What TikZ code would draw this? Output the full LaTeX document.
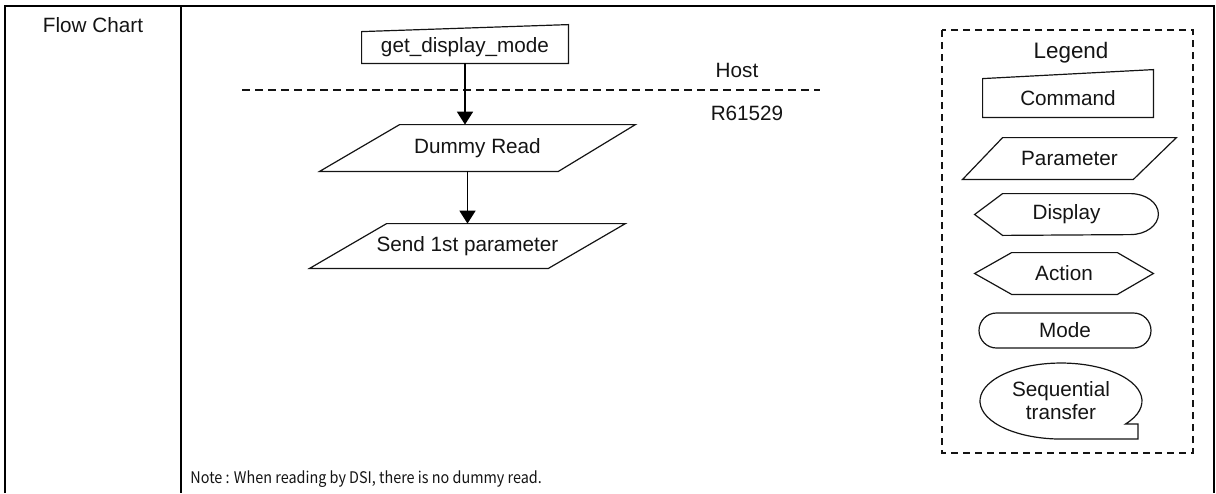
\documentclass[tikz,border=0pt]{standalone}
\usepackage{fontspec}
\setmainfont{Liberation Sans}
\newfontfamily\notefont[FakeStretch=0.9]{Noto Sans CJK JP}
\usepackage{tikz}
\usetikzlibrary{arrows.meta,positioning,calc}
\usepackage{xcolor}
\definecolor{inkblack}{RGB}{20,20,20}
\tikzset{
  frameline/.style={line width=1.1pt,draw=black},
  shapetext/.style={inner sep=0pt,align=center,font=\fontsize{10.35}{11.5}\selectfont,text=inkblack},
  outline/.style={line width=0.6pt,draw=inkblack},
  flowarrow/.style={-{Triangle[length=6.5pt,width=8pt]},line width=0.9pt,draw=black},
  splitline/.style={line width=0.65pt,draw=inkblack,dash pattern=on 4pt off 2.5pt},
  legendbox/.style={line width=0.6pt,draw=inkblack,dash pattern=on 3.5pt off 2.5pt},
  modebox/.style={shapetext,draw=inkblack,line width=0.6pt,rounded corners=8.75pt}
}
\begin{document}
\begin{tikzpicture}[x=0.5pt,y=-0.5pt]
  \useasboundingbox (0,0) rectangle (1216,493);
  % table frame
  \coordinate (tl) at (5,6); \coordinate (tr) at (1214,6);
  \coordinate (bl) at (5,493); \coordinate (br) at (1214,493);
  \coordinate (dt) at (181,6); \coordinate (db) at (181,493);
  \draw[frameline] (bl) -- (tl) -- (tr) -- (br);
  \draw[frameline] (dt) -- (db);
  \node[shapetext] (title) at (93,25) {Flow Chart};
  % flow
  \node[shapetext,minimum width=103pt,minimum height=15.5pt] (gdm) at (465,47.5) {get\_display\_mode};
  \node[shapetext,minimum width=157.5pt,minimum height=23pt] (dummy) at (477.5,148) {Dummy Read};
  \node[shapetext,minimum width=157.5pt,minimum height=22pt] (send) at (467.5,246) {Send 1st parameter};
  \draw[outline] (gdm.south west) -- (gdm.south east) -- ($(gdm.north east)+(0,-7)$) -- (gdm.north west) -- cycle;
  \draw[outline] ($(dummy.north west)+(80,0)$) -- (dummy.north east) -- ($(dummy.south east)+(-77,0)$) -- (dummy.south west) -- cycle;
  \draw[outline] ($(send.north west)+(77,0)$) -- (send.north east) -- ($(send.south east)+(-77,0)$) -- (send.south west) -- cycle;
  \coordinate (hl) at (242,90); \coordinate (hr) at (820,90);
  \draw[splitline] (hl) -- (hr);
  \node[shapetext] (host) at (737,70) {Host};
  \node[shapetext] (chip) at (747,113) {R61529};
  \draw[flowarrow] (gdm.south) -- (gdm.south |- dummy.north);
  \draw[flowarrow] (send.north |- dummy.south) -- (send.north);
  % legend
  \draw[legendbox] (942,30) rectangle (1193,453);
  \node[shapetext,font=\fontsize{11.2}{12}\selectfont] (legend) at (1071,53) {Legend};
  \node[shapetext,minimum width=85pt,minimum height=19pt] (cmdleg) at (1068,98) {Command};
  \node[shapetext,minimum width=106.5pt,minimum height=20.5pt] (parleg) at (1069.5,158.5) {Parameter};
  \node[shapetext,minimum width=91.5pt,minimum height=20.5pt] (displeg) at (1066.5,214.5) {Display};
  \node[shapetext,minimum width=89pt,minimum height=20.5pt] (actleg) at (1064,273.5) {Action};
  \node[modebox,minimum width=86pt,minimum height=17.5pt] (modeleg) at (1065,330.5) {Mode};
  \node[shapetext] (seqleg) at (1061,401) {Sequential\\transfer};
  \draw[outline] (cmdleg.south west) -- (cmdleg.south east) -- ($(cmdleg.north east)+(0,-9)$) -- (cmdleg.north west) -- cycle;
  \draw[outline] ($(parleg.north west)+(40,0)$) -- (parleg.north east) -- ($(parleg.south east)+(-43,0)$) -- (parleg.south west) -- cycle;
  \draw[outline] (displeg.west) -- ($(displeg.north west)+(28,0)$) -- ($(displeg.north east)+(-28,0)$)
    arc[start angle=90,end angle=-90,x radius=14pt,y radius=10.25pt] -- ($(displeg.south west)+(28,0)$) -- cycle;
  \draw[outline] (actleg.west) -- ($(actleg.north west)+(37,0)$) -- ($(actleg.north east)+(-36,0)$) -- (actleg.east)
    -- ($(actleg.south east)+(-36,0)$) -- ($(actleg.south west)+(37,0)$) -- cycle;
  \draw[outline] ($(seqleg.center)+(64.5,23)$) arc[start angle=-37.2,end angle=270,x radius=40.5pt,y radius=19pt]
    -- ($(seqleg.center)+(77,38)$) -- ($(seqleg.center)+(77,23)$) -- cycle;
  % note
  \node[shapetext,anchor=west,font=\notefont\fontsize{8}{9}\selectfont] (note) at (190,479) {Note : When reading by DSI, there is no dummy read.};
\end{tikzpicture}
\end{document}
